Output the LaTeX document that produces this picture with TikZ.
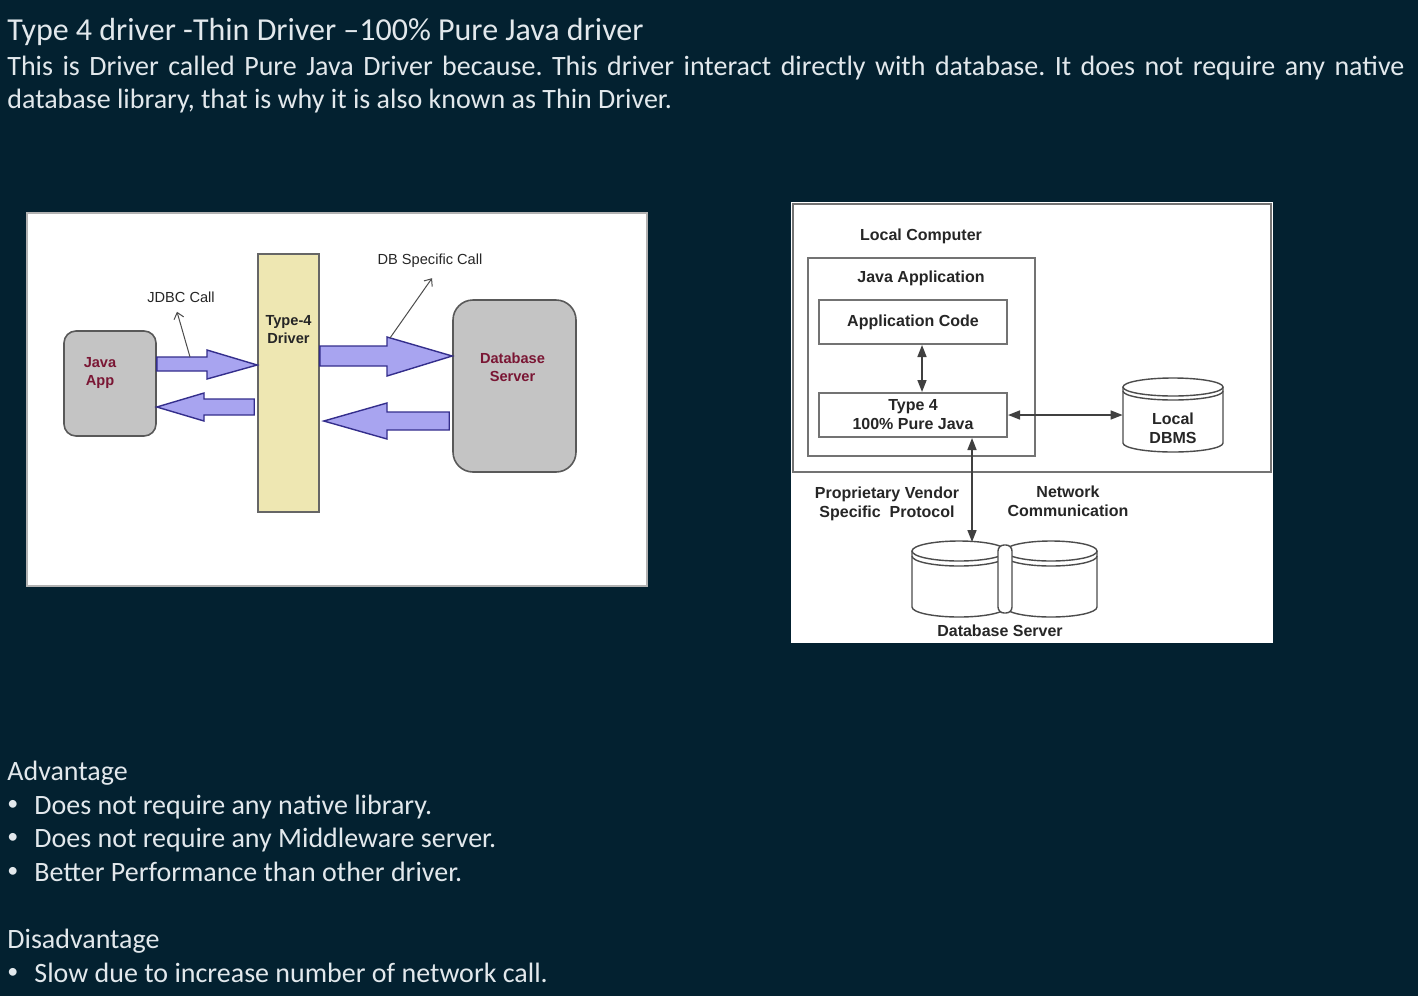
\documentclass[tikz,border=0pt]{standalone}
\usepackage{fontspec}
\setmainfont{Carlito}
\newfontfamily\arialfont{Liberation Sans}
\usetikzlibrary{positioning, arrows.meta}
\frenchspacing

\definecolor{slidebg}{RGB}{3,33,48}
\definecolor{slidefg}{RGB}{226,232,236}
\definecolor{lavender}{RGB}{168,164,240}
\definecolor{arrowedge}{RGB}{52,46,140}
\definecolor{boxgray}{RGB}{196,196,196}
\definecolor{drvyellow}{RGB}{238,231,178}
\definecolor{darkred}{RGB}{122,22,52}

\newcommand{\slidebullet}{\makebox[13.5pt][l]{\raisebox{1.6pt}{\fontsize{11}{11}\selectfont•}}}

\tikzset{
  slidetitle/.style={text=slidefg, font=\fontsize{16}{18}\selectfont, inner sep=0pt, anchor=base west},
  slidetext/.style={text=slidefg, font=\fontsize{14}{16.5}\selectfont, inner sep=0pt, anchor=base west},
  panel/.style={fill=white, draw=gray!60, line width=0.6pt, inner sep=0pt},
  srvbox/.style={fill=boxgray, draw=black!65, line width=0.8pt, inner sep=0pt},
  drvbox/.style={fill=drvyellow, draw=black!60, line width=0.8pt, inner sep=0pt},
  redtext/.style={text=darkred, font=\arialfont\bfseries\fontsize{7.3}{9}\selectfont, align=center, inner sep=0pt},
  calltext/.style={text=black!85, font=\arialfont\fontsize{7.3}{9}\selectfont, inner sep=0pt},
  blockarrow/.style={fill=lavender, draw=arrowedge, line width=0.7pt, line join=miter},
  callarrow/.style={draw=black!70, line width=0.5pt, -{Straight Barb[length=3pt,width=5pt]}},
  graybox/.style={draw=black!55, line width=1pt, inner sep=0pt},
  diagtext/.style={text=black!85, font=\arialfont\bfseries\fontsize{8}{9.5}\selectfont, align=center, inner sep=0pt},
  dblarrow/.style={draw=black!75, line width=0.8pt, {Triangle[length=6pt,width=4.5pt]}-{Triangle[length=6pt,width=4.5pt]}},
  cyl/.style={draw=black!70, line width=0.7pt, fill=white}
}

\begin{document}
\begin{tikzpicture}[x=0.5pt, y=-0.5pt]
  \fill[slidebg] (0,0) rectangle (1418,996);
  \useasboundingbox (0,0) rectangle (1418,996);

  % heading
  \node[slidetitle] (title) at (7,40) {Type 4 driver -Thin Driver –100\% Pure Java driver};
  \node[slidetext] (introa) at (7,75) {\makebox[698.5pt][s]{This is Driver called Pure Java Driver because. This driver interact directly with database. It does not require any native}};
  \node[slidetext] (introb) at (7,108) {database library, that is why it is also known as Thin Driver.};

  % left diagram
  \node[panel, minimum width=310pt, minimum height=186.5pt] (leftpanel) at (337,399.5) {};
  \node[srvbox, rounded corners=6pt, minimum width=46pt, minimum height=52.5pt] (java) at (110,383.5) {};
  \node[redtext] (javatext) at ([xshift=-5pt, yshift=5.25pt]java.center) {Java\\App};
  \node[drvbox, minimum width=30.5pt, minimum height=129pt] (drv) at (288.5,383) {};
  \node[diagtext, font=\arialfont\bfseries\fontsize{7.3}{9}\selectfont] (drvtext) at ([yshift=26.5pt]drv.center) {Type-4\\Driver};
  \node[srvbox, rounded corners=10pt, minimum width=61.5pt, minimum height=86pt] (db) at (514.5,386) {};
  \node[redtext] (dbtext) at ([xshift=-1pt, yshift=9.5pt]db.center) {Database\\Server};

  \draw[blockarrow] (java.east |- 0,357) -- (207,357) -- (207,350) -- (drv.west |- 0,365)
    -- (207,379) -- (207,371) -- (java.east |- 0,371) -- cycle;
  \draw[blockarrow] ([xshift=-1.5pt]drv.west |- 0,399) -- (204,399) -- (204,393) -- (java.east |- 0,407)
    -- (204,421) -- (204,415) -- ([xshift=-1.5pt]drv.west |- 0,415) -- cycle;
  \draw[blockarrow] (drv.east |- 0,346) -- (387,346) -- (387,337) -- (db.west |- 0,356)
    -- (387,376) -- (387,366) -- (drv.east |- 0,366) -- cycle;
  \draw[blockarrow] ([xshift=-1.5pt]db.west |- 0,412) -- (387,412) -- (387,403) -- ([xshift=2pt]drv.east |- 0,421)
    -- (387,439) -- (387,430) -- ([xshift=-1.5pt]db.west |- 0,430) -- cycle;

  \node[calltext] (jdbc) at (181,297) {JDBC Call};
  \node[calltext] (dbcall) at (430,261) {DB Specific Call};
  \draw[callarrow] (190,357) -- ([shift={(-4,9)}]jdbc.south);
  \draw[callarrow] (390,338) -- ([shift={(2,10)}]dbcall.south);

  % right diagram
  \node[fill=white, inner sep=0pt, minimum width=241pt, minimum height=220.5pt] (rightpanel) at (1032,422.5) {};
  \node[graybox, minimum width=239pt, minimum height=134pt] (localpc) at (1032,338) {};
  \node[diagtext] (localtext) at (921,236) {Local Computer};
  \node[graybox, minimum width=113.5pt, minimum height=99pt] (javaapp) at (921.5,357) {};
  \node[diagtext] (javaapptext) at (921,278) {Java Application};
  \node[graybox, diagtext, minimum width=94pt, minimum height=22pt] (appcode) at (913,322) {Application Code};
  \node[graybox, diagtext, minimum width=94pt, minimum height=22pt] (type4) at (913,415) {Type 4\\100\% Pure Java};

  % local dbms
  \draw[cyl] (1123,387) -- (1123,443) arc[start angle=180, end angle=0, x radius=50, y radius=9] -- (1223,387);
  \draw[cyl] (1173,387) ellipse[x radius=50, y radius=9];
  \draw[cyl, fill=none] (1123,391) arc[start angle=180, end angle=0, x radius=50, y radius=9];
  \node[inner sep=0pt, minimum width=50pt, minimum height=37.5pt] (ldbms) at (1173,415.5) {};
  \node[diagtext] (ldbmstext) at (1173,428) {Local\\DBMS};

  % database server
  \foreach \cx/\rx in {959/47, 1051/46} {
    \draw[cyl] (\cx-\rx,551) -- (\cx-\rx,607) arc[start angle=180, end angle=0, x radius=\rx, y radius=10] -- (\cx+\rx,551);
    \draw[cyl] (\cx,551) ellipse[x radius=\rx, y radius=10];
    \draw[cyl, fill=none] (\cx-\rx,556) arc[start angle=180, end angle=0, x radius=\rx, y radius=10];
  }
  \draw[cyl, rounded corners=3pt] (998,545) rectangle (1012,613);
  \coordinate (dbtop) at (972,542);
  \node[diagtext] (dbsrvtext) at (1000,631) {Database Server};

  \draw[dblarrow] (appcode.south -| 922,0) -- (type4.north -| 922,0);
  \draw[dblarrow] (type4.east) -- (type4.east -| ldbms.west);
  \draw[dblarrow] (type4.south -| 972,0) -- (dbtop);

  \node[diagtext] (proptext) at (887,504) {Proprietary Vendor\\Specific~~Protocol};
  \node[diagtext] (nettext) at (1068,501) {Network\\Communication};

  % advantages
  \node[slidetext] (advhead) at (7,780) {Advantage};
  \node[slidetext] (adva) at (7,814) {\slidebullet Does not require any native library.};
  \node[slidetext] (advb) at (7,847) {\slidebullet Does not require any Middleware server.};
  \node[slidetext] (advc) at (7,881) {\slidebullet Better Performance than other driver.};
  \node[slidetext] (dishead) at (7,948) {Disadvantage};
  \node[slidetext] (disa) at (7,982) {\slidebullet Slow due to increase number of network call.};
\end{tikzpicture}
\end{document}
